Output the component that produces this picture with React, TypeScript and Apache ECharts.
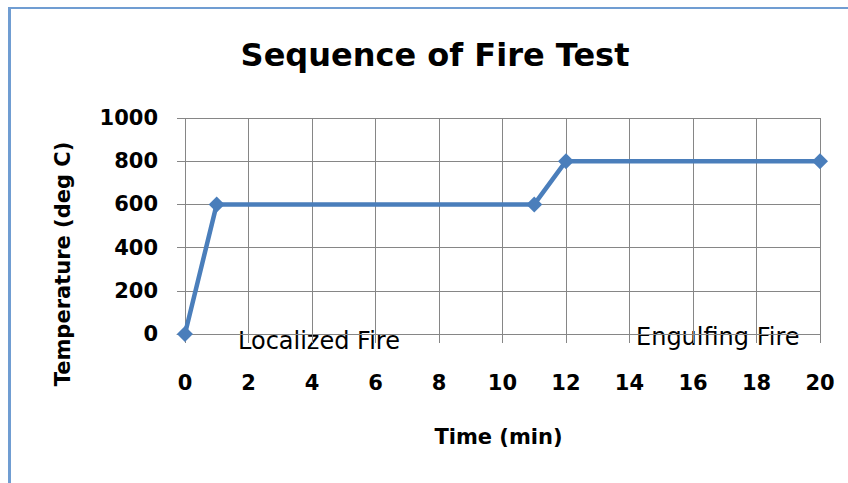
import React, { useEffect, useRef } from 'react';
import * as echarts from 'echarts';

const timeMin = [0, 1, 11, 12, 20];
const tempC = [0, 600, 600, 800, 800];
const xTicks = [0, 2, 4, 6, 8, 10, 12, 14, 16, 18, 20];
const yMin = 0;
const yMax = 1000;
const yStep = 200;
const titleText = 'Sequence of Fire Test';
const xName = 'Time (min)';
const yName = 'Temperature (deg C)';
const noteLocal = 'Localized Fire';
const noteEngulf = 'Engulfing Fire';

export default function App() {
  const ref = useRef<HTMLDivElement>(null);
  useEffect(() => {
    document.body.style.margin = '0';
    const chart = echarts.init(ref.current as HTMLDivElement, null, { renderer: 'svg' });
    const font = 'DejaVu Sans';
    const grey = '#868686';
    const blue = '#4a7ebb';
    const border = '#709dd2';
    chart.setOption({
      animation: false,
      backgroundColor: '#ffffff',
      grid: { left: 177, right: 28, top: 118, bottom: 149, outerBoundsMode: 'none' },
      xAxis: {
        type: 'value',
        min: -0.25,
        max: 20,
        name: xName,
        nameLocation: 'middle',
        nameGap: 92,
        nameTextStyle: { fontFamily: font, fontWeight: 'bold', fontSize: 21, color: '#000' },
        axisLine: { show: true, onZero: false, lineStyle: { color: grey, width: 1 } },
        axisTick: { show: true, customValues: xTicks, length: 9, inside: false, lineStyle: { color: grey, width: 1 } },
        axisLabel: { customValues: xTicks, margin: 38, fontFamily: font, fontWeight: 'bold', fontSize: 21, color: '#000', formatter: (v: number) => String(v) },
        splitLine: { show: true, lineStyle: { color: grey, width: 1 } },
      },
      yAxis: {
        type: 'value',
        min: yMin,
        max: yMax,
        interval: yStep,
        axisLine: { show: false },
        axisTick: { show: false },
        axisLabel: { margin: 19, fontFamily: font, fontWeight: 'bold', fontSize: 21, color: '#000', formatter: (v: number) => String(v) },
        splitLine: { show: true, lineStyle: { color: grey, width: 1 } },
      },
      series: [
        {
          type: 'line',
          data: timeMin.map((t, i) => [t, tempC[i]]),
          symbol: 'diamond',
          symbolSize: 16,
          showAllSymbol: true,
          clip: false,
          lineStyle: { color: blue, width: 4.5 },
          itemStyle: { color: blue },
          z: 3,
        },
      ],
      graphic: [
        {
          type: 'text', x: 435, y: 55, z: 5,
          style: { text: titleText, fontFamily: font, fontWeight: 'bold', fontSize: 32, fill: '#000', align: 'center', verticalAlign: 'middle' },
        },
        {
          type: 'text', x: 63, y: 264, rotation: Math.PI / 2, z: 5,
          style: { text: yName, fontFamily: font, fontWeight: 'bold', fontSize: 21, fill: '#000', align: 'center', verticalAlign: 'middle' },
        },
        {
          type: 'text', x: 238, y: 341, z: -1,
          style: { text: noteLocal, fontFamily: font, fontSize: 24, fill: '#000', align: 'left', verticalAlign: 'middle' },
        },
        {
          type: 'text', x: 636, y: 337, z: -1,
          style: { text: noteEngulf, fontFamily: font, fontSize: 24, fill: '#000', align: 'left', verticalAlign: 'middle' },
        },
        { type: 'line', z: 10, shape: { x1: 9.5, y1: 8, x2: 9.5, y2: 483 }, style: { stroke: border, lineWidth: 3 } },
        { type: 'line', z: 10, shape: { x1: 8, y1: 8, x2: 848, y2: 8 }, style: { stroke: border, lineWidth: 2 } },
      ],
    });
    return () => chart.dispose();
  }, []);
  return <div ref={ref} style={{ width: 848, height: 483 }} />;
}
